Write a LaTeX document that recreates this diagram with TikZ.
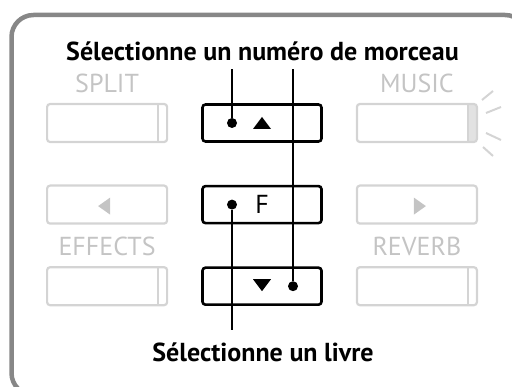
\documentclass[tikz,border=0pt]{standalone}
\usepackage{fontspec}
\setmainfont{PT Sans}
\usepackage{xcolor}
\usepackage{tikz}
\usetikzlibrary{positioning, calc}

\definecolor{frameGray}{RGB}{135,135,135}
\definecolor{keyGray}{RGB}{212,212,212}
\definecolor{labelGray}{RGB}{196,196,196}
\definecolor{litGray}{RGB}{226,226,226}

\begin{document}
\begin{tikzpicture}[
    x=1pt, y=-1pt,
    kbtn/.style={rectangle, draw=black, line width=2.6pt, rounded corners=3pt, minimum width=119pt, minimum height=37pt, inner sep=0pt, font=\fontsize{26}{30}\selectfont},
    gbtn/.style={rectangle, draw=keyGray, line width=2.2pt, rounded corners=3pt, minimum width=120pt, minimum height=38pt, inner sep=0pt},
    divbtn/.style={path picture={\draw[keyGray, line width=2pt] ([xshift=-9pt]path picture bounding box.north east) -- ([xshift=-9pt]path picture bounding box.south east);}},
    litbtn/.style={path picture={\fill[litGray] ([xshift=-9pt]path picture bounding box.north east) rectangle (path picture bounding box.south east);
        \draw[keyGray, line width=2pt] ([xshift=-9pt]path picture bounding box.north east) -- ([xshift=-9pt]path picture bounding box.south east);}},
    glbl/.style={text=labelGray, font=\fontsize{26}{30}\selectfont, inner sep=0pt},
    blbl/.style={font=\bfseries\fontsize{26}{30}\selectfont, inner sep=0pt},
    dot/.style={circle, fill=black, inner sep=0pt, minimum size=10pt},
    conn/.style={line width=1.2pt, color=black},
    ray/.style={keyGray, line width=2pt}
]

\useasboundingbox (0,0) rectangle (512,387);
\clip (0,0) rectangle (512,387);
\draw[frameGray, line width=4.5pt, rounded corners=22pt] (11.5,15) rectangle (527,395);

% middle column
\node[kbtn] (up_btn) at (262,123) {};
\node[kbtn, below=42pt of up_btn] (f_btn) {F};
\node[kbtn, below=42pt of f_btn] (down_btn) {};

% side keys
\node[gbtn, divbtn, left=33pt of up_btn] (split_btn) {};
\node[gbtn, litbtn, right=33pt of up_btn] (music_btn) {};
\node[gbtn, left=33pt of f_btn] (left_btn) {};
\node[gbtn, right=33pt of f_btn] (right_btn) {};
\node[gbtn, divbtn, left=33pt of down_btn] (effects_btn) {};
\node[gbtn, divbtn, right=33pt of down_btn] (reverb_btn) {};

\node[glbl, above=10pt of split_btn.north, anchor=base] (split_lbl) {SPLIT};
\node[glbl, above=10pt of music_btn.north, anchor=base] (music_lbl) {MUSIC};
\node[glbl, above=11pt of effects_btn.north, anchor=base] (effects_lbl) {EFFECTS};
\node[glbl, above=11pt of reverb_btn.north, anchor=base] (reverb_lbl) {REVERB};

% arrows on keys
\fill ([shift={(-9,6)}]up_btn.center) -- ++(18,0) -- ++(-9,-12) -- cycle;
\fill ([shift={(-9,-7)}]down_btn.center) -- ++(18,0) -- ++(-9,12) -- cycle;
\fill[labelGray] ([shift={(3,-7)}]left_btn.center) -- ++(0,17) -- ++(-12,-8.5) -- cycle;
\fill[labelGray] ([shift={(-3,-7)}]right_btn.center) -- ++(0,17) -- ++(12,-8.5) -- cycle;

% light rays
\draw[ray] ([shift={(4,-23)}]music_btn.east) -- ++(11,-9);
\draw[ray] ([shift={(8,-10)}]music_btn.east) -- ++(15,-6);
\draw[ray] ([shift={(8,10)}]music_btn.east) -- ++(15,7);
\draw[ray] ([shift={(5,24)}]music_btn.east) -- ++(10,9);

\node[dot] (up_dot) at ([xshift=-30pt]up_btn.center) {};
\node[dot] (f_dot) at ([xshift=-30pt]f_btn.center) {};
\node[dot] (down_dot) at ([xshift=31pt]down_btn.center) {};

\node[blbl, anchor=base] (song_lbl) at (262.5,61) {Sélectionne un numéro de morceau};
\node[blbl, anchor=base] (book_lbl) at (263,362) {Sélectionne un livre};

\draw[conn, shorten >=8pt] (up_dot) -- (up_dot |- song_lbl.base);
\draw[conn, shorten >=8pt] (down_dot) -- (down_dot |- song_lbl.base);
\draw[conn, shorten >=32pt] (f_dot) -- (f_dot |- book_lbl.base);

\end{tikzpicture}
\end{document}
